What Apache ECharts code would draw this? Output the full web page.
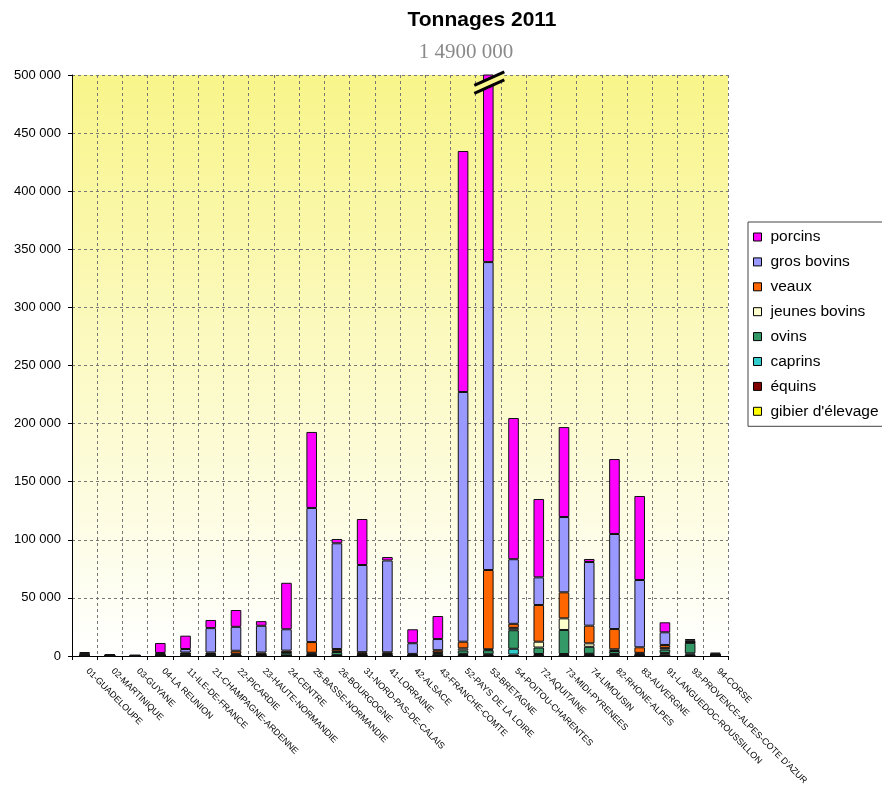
<!DOCTYPE html>
<html>
<head>
<meta charset="utf-8">
<script src="https://cdn.jsdelivr.net/npm/echarts@6/dist/echarts.min.js"></script>
<style>
html,body{margin:0;padding:0;background:#fff;}
#main{width:882px;height:794px;}
</style>
</head>
<body>
<div id="main"></div>
<script>
const categories = ["01-GUADELOUPE","02-MARTINIQUE","03-GUYANE","04-LA REUNION","11-ILE-DE-FRANCE","21-CHAMPAGNE-ARDENNE","22-PICARDIE","23-HAUTE-NORMANDIE","24-CENTRE","25-BASSE-NORMANDIE","26-BOURGOGNE","31-NORD-PAS-DE-CALAIS","41-LORRAINE","42-ALSACE","43-FRANCHE-COMTE","52-PAYS DE LA LOIRE","53-BRETAGNE","54-POITOU-CHARENTES","72-AQUITAINE","73-MIDI-PYRENEES","74-LIMOUSIN","82-RHONE-ALPES","83-AUVERGNE","91-LANGUEDOC-ROUSSILLON","93-PROVENCE-ALPES-COTE D'AZUR","94-CORSE"];

const porcins      = [800,500,300,8600,11500,7000,14500,4000,40000,65400,3700,39600,3000,12000,19800,207400,1151000,121500,67400,77400,2600,64500,72300,8600,1000,800];
const grosBovins   = [1800,700,400,1800,3000,21000,20600,23000,18400,115400,91000,75000,79000,9200,9600,214900,265000,55600,23800,64800,54800,81800,57900,10900,1500,900];
const veaux        = [200,100,50,200,1000,1200,2500,1500,1500,9200,2000,1500,1200,800,2000,5700,68200,3500,31600,22400,15200,17400,4800,2500,300,100];
const jeunesBovins = [0,0,0,0,0,300,500,300,300,500,500,300,300,200,500,1800,800,2000,5000,10000,3000,1500,600,1500,500,0];
const ovins        = [300,100,50,200,1500,1200,1200,900,2300,1500,2800,1000,1400,500,1800,3000,3500,16000,5600,20700,6000,2500,1300,3000,9000,500];
const caprins      = [200,100,0,300,200,100,100,100,300,300,300,200,100,100,300,1000,800,5000,700,600,300,1000,300,1000,1300,300];
const equins       = [100,0,0,0,300,200,200,200,200,500,400,300,200,200,400,800,700,1200,1000,1100,1600,800,500,1500,1000,200];
const gibier       = [0,0,0,100,0,0,0,0,0,0,0,0,0,0,0,0,0,0,0,0,0,0,0,0,0,0];

const yTicks = {min: 0, max: 500000, interval: 50000};
const titleText = "Tonnages 2011";
const brokenTotalText = "1 4900 000";
const brokenCategory = "53-BRETAGNE";

const seriesDefs = [
  {name: "gibier d'élevage", data: gibier, color: "#FFFF00"},
  {name: "équins", data: equins, color: "#800000"},
  {name: "caprins", data: caprins, color: "#33CCCC"},
  {name: "ovins", data: ovins, color: "#339966"},
  {name: "jeunes bovins", data: jeunesBovins, color: "#FFFFCC"},
  {name: "veaux", data: veaux, color: "#FF6600"},
  {name: "gros bovins", data: grosBovins, color: "#9999FF"},
  {name: "porcins", data: porcins, color: "#FF00FF"}
];
const legendOrder = ["porcins","gros bovins","veaux","jeunes bovins","ovins","caprins","équins","gibier d'élevage"];

const chart = echarts.init(document.getElementById('main'), null, {renderer: 'canvas'});

function fmt(v){ return String(v).replace(/\B(?=(\d{3})+(?!\d))/g, ' '); }

const option = {
  animation: false,
  backgroundColor: '#ffffff',
  title: [
    {text: titleText, left: 477, top: 5, textAlign: 'center',
     textStyle: {fontFamily: 'Liberation Sans', fontWeight: 'bold', fontSize: 21, color: '#000'}},
    {text: brokenTotalText, left: 461, top: 37, textAlign: 'center',
     textStyle: {fontFamily: 'Liberation Serif', fontWeight: 'normal', fontSize: 21, color: '#8a8a8a'}}
  ],
  legend: {
    orient: 'vertical',
    left: 748, top: 222,
    data: legendOrder,
    icon: 'rect',
    itemWidth: 8, itemHeight: 8,
    itemGap: 8.9,
    padding: [7, 6, 7, 5],
    borderColor: '#444', borderWidth: 1,
    backgroundColor: '#fff',
    textStyle: {fontFamily: 'Liberation Sans', fontSize: 15.5, lineHeight: 16, color: '#000', padding: [0,0,0,4]},
    itemStyle: {borderColor: '#000', borderWidth: 1}
  },
  grid: {
    left: 72, right: 154, top: 75, bottom: 138,
    show: true, borderWidth: 0,
    backgroundColor: new echarts.graphic.LinearGradient(0, 0, 0, 1, [
      {offset: 0, color: '#f8f58a'},
      {offset: 1, color: '#ffffff'}
    ])
  },
  xAxis: {
    type: 'category',
    data: categories,
    boundaryGap: true,
    axisLine: {lineStyle: {color: '#000', width: 1}},
    axisTick: {show: true, length: 4, lineStyle: {color: '#000'}},
    axisLabel: {interval: 0, rotate: -45, fontSize: 9, fontFamily: 'Liberation Sans', color: '#000', margin: 11, padding: [0,0,0,4]},
    splitLine: {show: true, lineStyle: {color: '#777', type: [3, 3], width: 1}}
  },
  yAxis: {
    type: 'value',
    min: yTicks.min, max: yTicks.max, interval: yTicks.interval,
    axisLine: {show: true, lineStyle: {color: '#000', width: 1}},
    axisTick: {show: true, length: 4, lineStyle: {color: '#000'}},
    axisLabel: {fontSize: 13, fontFamily: 'Liberation Sans', color: '#000', margin: 11, formatter: fmt},
    splitLine: {show: true, lineStyle: {color: '#777', type: [3, 3], width: 1}}
  },
  series: seriesDefs.map(s => ({
    name: s.name,
    type: 'bar',
    stack: 'total',
    data: s.data,
    barWidth: '42%',
    clip: true,
    itemStyle: {color: s.color, borderColor: '#111', borderWidth: 1},
    emphasis: {disabled: true}
  }))
};

chart.setOption(option);

// break marker on the clipped bar, positioned through the chart's scales
const breakPt = chart.convertToPixel({xAxisIndex: 0, yAxisIndex: 0}, [brokenCategory, yTicks.max]);
const bx = breakPt[0], by = breakPt[1];
const k = 0.45;
const x1 = bx - 14, x2 = bx + 16;
function yOn(x, y0){ return y0 - (x - bx) * k; }
chart.setOption({
  graphic: [
    {type: 'polygon', z: 100, shape: {points: [[x1, yOn(x1, by + 5)], [x2, yOn(x2, by + 5)], [x2, yOn(x2, by + 11)], [x1, yOn(x1, by + 11)]]},
     style: {fill: '#f9f68e'}},
    {type: 'line', z: 101, shape: {x1: x1, y1: yOn(x1, by + 4), x2: x2, y2: yOn(x2, by + 4)}, style: {stroke: '#000', lineWidth: 3}},
    {type: 'line', z: 101, shape: {x1: x1, y1: yOn(x1, by + 12), x2: x2, y2: yOn(x2, by + 12)}, style: {stroke: '#000', lineWidth: 3}}
  ]
});
</script>
</body>
</html>
